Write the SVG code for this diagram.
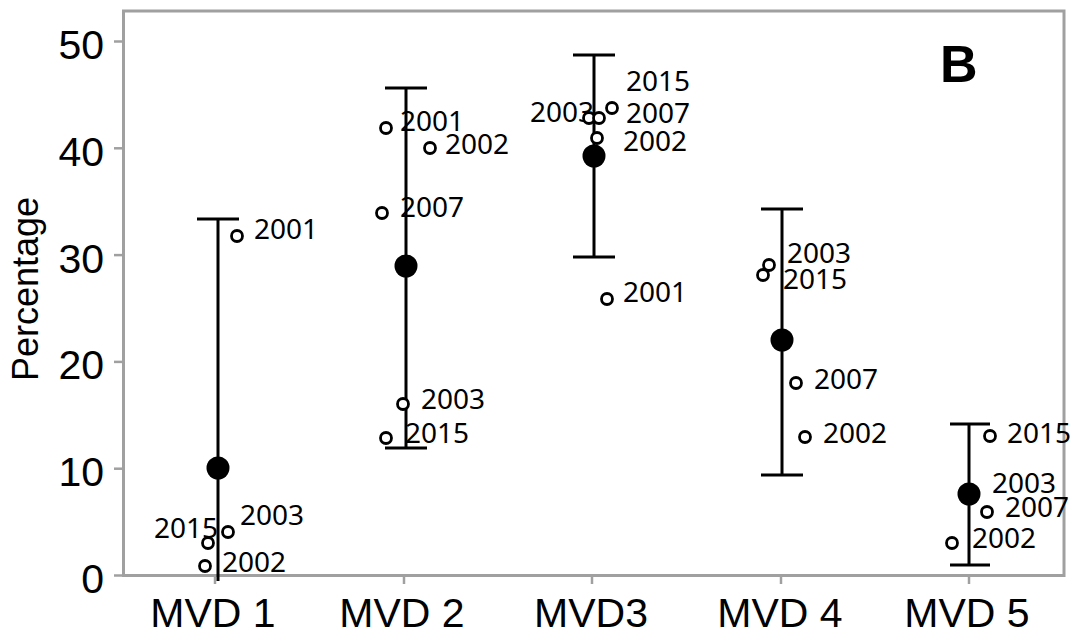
<svg xmlns="http://www.w3.org/2000/svg" width="1075" height="634" viewBox="0 0 1075 634">
<style>
.frame{fill:none;stroke:#a0a0a0;stroke-width:3}
.tick{stroke:#a0a0a0;stroke-width:2.5}
.axl{font-family:"Liberation Sans",Arial,sans-serif;font-size:41px;fill:#000}
.yt{font-family:"Liberation Sans",Arial,sans-serif;font-size:41px;fill:#000;text-anchor:end}
.xt{font-family:"Liberation Sans",Arial,sans-serif;font-size:41px;fill:#000;text-anchor:middle}
.yr{font-family:"Noto Sans","DejaVu Sans",sans-serif;font-size:28px;fill:#000}
.bar{stroke:#000;stroke-width:3;fill:none}
.pt{fill:#fff;stroke:#000;stroke-width:2.8}
.mean{fill:#000}
</style>
<rect x="0" y="0" width="1075" height="634" fill="#fff"/>
<g id="axes">
<rect class="frame" x="123.5" y="11" width="940.5" height="564.5"/>
<g class="tick">
<line x1="114" y1="575.5" x2="123" y2="575.5"/>
<line x1="114" y1="468.7" x2="123" y2="468.7"/>
<line x1="114" y1="361.9" x2="123" y2="361.9"/>
<line x1="114" y1="255.1" x2="123" y2="255.1"/>
<line x1="114" y1="148.3" x2="123" y2="148.3"/>
<line x1="114" y1="41.5" x2="123" y2="41.5"/>
<line x1="215" y1="576" x2="215" y2="584"/>
<line x1="404" y1="576" x2="404" y2="584"/>
<line x1="592" y1="576" x2="592" y2="584"/>
<line x1="781" y1="576" x2="781" y2="584"/>
<line x1="969" y1="576" x2="969" y2="584"/>
</g>
<text class="yt" x="104" y="593">0</text>
<text class="yt" x="104" y="486">10</text>
<text class="yt" x="104" y="379">20</text>
<text class="yt" x="104" y="273">30</text>
<text class="yt" x="104" y="166">40</text>
<text class="yt" x="104" y="59">50</text>
<text class="xt" x="213" y="627">MVD 1</text>
<text class="xt" x="402" y="627">MVD 2</text>
<text class="xt" x="591" y="627">MVD3</text>
<text class="xt" x="780" y="627">MVD 4</text>
<text class="xt" x="967" y="627">MVD 5</text>
<text transform="translate(38,289) rotate(-90)" font-family="'Liberation Sans',Arial,sans-serif" font-size="36" text-anchor="middle">Percentage</text>
<text x="940" y="82" font-family="'Liberation Sans',Arial,sans-serif" font-size="52" font-weight="bold">B</text>
</g>
<g id="labels">
<text class="yr" x="254" y="239">2001</text>
<text class="yr" x="240" y="525">2003</text>
<text class="yr" x="154" y="538">2015</text>
<text class="yr" x="222" y="572">2002</text>
<text class="yr" x="400" y="131">2001</text>
<text class="yr" x="445" y="154">2002</text>
<text class="yr" x="400" y="217">2007</text>
<text class="yr" x="421" y="409">2003</text>
<text class="yr" x="405" y="443">2015</text>
<text class="yr" x="626" y="91">2015</text>
<text class="yr" x="626" y="123">2007</text>
<text class="yr" x="530" y="122">2003</text>
<text class="yr" x="623" y="151">2002</text>
<text class="yr" x="623" y="302">2001</text>
<text class="yr" x="787" y="263">2003</text>
<text class="yr" x="783" y="289">2015</text>
<text class="yr" x="814" y="389">2007</text>
<text class="yr" x="823" y="443">2002</text>
<text class="yr" x="1007" y="443">2015</text>
<text class="yr" x="992" y="493">2003</text>
<text class="yr" x="1005" y="517">2007</text>
<text class="yr" x="972" y="548">2002</text>
</g>
<g id="connectors">
<path class="bar" d="M218 219V581M197 219H239"/>
<path class="bar" d="M406 88V448M385 88H427M385 448H427"/>
<path class="bar" d="M594 55V257M573 55H615M573 257H615"/>
<path class="bar" d="M782 209V475M761 209H803M761 475H803"/>
<path class="bar" d="M969 424V565M950 424H990M950 565H990"/>
</g>
<g id="mvd1">
<circle class="pt" cx="237" cy="236" r="5.5"/>
<circle class="pt" cx="228" cy="532" r="5.5"/>
<circle class="pt" cx="208" cy="543" r="5.5"/>
<circle class="pt" cx="205" cy="566" r="5.5"/>
<circle class="mean" cx="218" cy="468" r="11.5"/>
</g>
<g id="mvd2">
<circle class="pt" cx="386" cy="128" r="5.5"/>
<circle class="pt" cx="430" cy="148" r="5.5"/>
<circle class="pt" cx="382" cy="213" r="5.5"/>
<circle class="pt" cx="403" cy="404" r="5.5"/>
<circle class="pt" cx="386" cy="438" r="5.5"/>
<circle class="mean" cx="406" cy="266" r="11.5"/>
</g>
<g id="mvd3">
<circle class="pt" cx="612" cy="108" r="5.5"/>
<circle class="pt" cx="589" cy="118" r="5.5"/>
<circle class="pt" cx="599" cy="118" r="5.5"/>
<circle class="pt" cx="597" cy="138" r="5.5"/>
<circle class="pt" cx="607" cy="299" r="5.5"/>
<circle class="mean" cx="594" cy="156" r="11.5"/>
</g>
<g id="mvd4">
<circle class="pt" cx="769" cy="265" r="5.5"/>
<circle class="pt" cx="763" cy="275" r="5.5"/>
<circle class="pt" cx="796" cy="383" r="5.5"/>
<circle class="pt" cx="805" cy="437" r="5.5"/>
<circle class="mean" cx="782" cy="340" r="11.5"/>
</g>
<g id="mvd5">
<circle class="pt" cx="990" cy="436" r="5.5"/>
<circle class="pt" cx="987" cy="512" r="5.5"/>
<circle class="pt" cx="952" cy="543" r="5.5"/>
<circle class="mean" cx="969" cy="494" r="11.5"/>
</g>
</svg>
